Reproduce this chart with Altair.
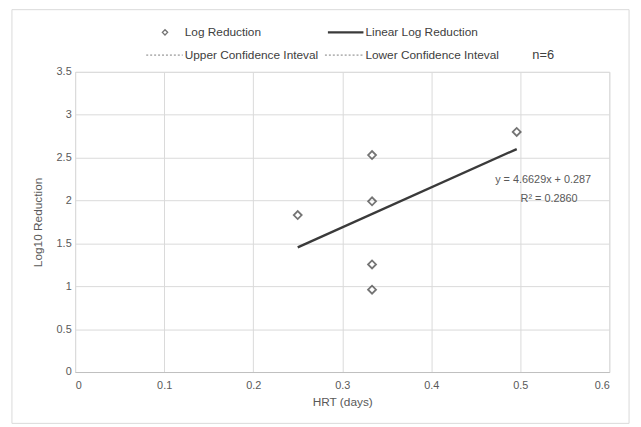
import altair as alt
import pandas as pd

# ---- data ----
hrt = [0.25, 0.3335, 0.3335, 0.3335, 0.3335, 0.496]
log_red = [1.83, 2.53, 1.99, 1.255, 0.96, 2.80]
trend_x = [0.25, 0.496]
trend_y = [1.453, 2.600]
x_ticks = [0, 0.1, 0.2, 0.3, 0.4, 0.5, 0.6]
y_ticks = [0, 0.5, 1, 1.5, 2, 2.5, 3, 3.5]
equation = ["y = 4.6629x  + 0.287", "R² = 0.2860"]
legend_labels = ["Log Reduction", "Linear Log Reduction",
                 "Upper Confidence Inteval", "Lower Confidence Inteval", "n=6"]

FONT = "Liberation Sans"
TXT = "#595959"
LEG = "#404040"
GRID = "#d9d9d9"
MARK = "#3a3a3a"

pts = pd.DataFrame({"x": hrt, "y": log_red})
trend = pd.DataFrame({"x": trend_x, "y": trend_y})
one = pd.DataFrame({"a": [0]})

xs = alt.Scale(domain=[0, 0.6], nice=False, zero=False)
ys = alt.Scale(domain=[0, 3.5], nice=False, zero=False)

xaxis = alt.Axis(values=x_ticks, format=".1~f", grid=True, gridColor=GRID,
                 domainColor="#bfbfbf", ticks=False, labelPadding=8,
                 labelFontSize=11, labelColor=TXT, labelFont=FONT,
                 title="HRT (days)", titleFontSize=12, titleFontWeight="normal",
                 titleColor=TXT, titleFont=FONT, titlePadding=6)
yaxis = alt.Axis(values=y_ticks, format=".1~f", grid=True, gridColor=GRID,
                 domain=False, ticks=False, labelPadding=4,
                 labelFontSize=11, labelColor=TXT, labelFont=FONT,
                 title="Log10 Reduction", titleFontSize=12, titleFontWeight="normal",
                 titleColor=TXT, titleFont=FONT, titlePadding=12)

border = alt.Chart(one).mark_rect(fill="transparent", stroke=GRID, strokeWidth=1, clip=False).encode(
    x=alt.value(-64), x2=alt.value(561), y=alt.value(-63), y2=alt.value(356))

points = alt.Chart(pts).mark_point(shape="diamond", filled=False, size=65,
                                   stroke=MARK, strokeWidth=1.8).encode(
    x=alt.X("x:Q", scale=xs, axis=xaxis),
    y=alt.Y("y:Q", scale=ys, axis=yaxis))

line = alt.Chart(trend).mark_line(color=MARK, strokeWidth=2.4).encode(
    x=alt.X("x:Q", scale=xs), y=alt.Y("y:Q", scale=ys))

layers = [border, points, line]

# equation text
layers.append(alt.Chart(one).mark_text(text=equation[0], font=FONT, fontSize=11, color=TXT,
                                       align="center", baseline="middle").encode(
    x=alt.value(474), y=alt.value(110)))
layers.append(alt.Chart(one).mark_text(text=equation[1], font=FONT, fontSize=11, color=TXT,
                                       align="center", baseline="middle").encode(
    x=alt.value(480), y=alt.value(129)))

# manual legend
layers.append(alt.Chart(one).mark_point(shape="diamond", filled=False, size=28,
                                        stroke=MARK, strokeWidth=1.4, clip=False).encode(
    x=alt.value(91), y=alt.value(-40)))
layers.append(alt.Chart(one).mark_rule(color=MARK, strokeWidth=2.4).encode(
    x=alt.value(256), x2=alt.value(292), y=alt.value(-40)))
layers.append(alt.Chart(one).mark_rule(color="#7f7f7f", strokeWidth=1, strokeDash=[2, 2]).encode(
    x=alt.value(72), x2=alt.value(109), y=alt.value(-17)))
layers.append(alt.Chart(one).mark_rule(color="#7f7f7f", strokeWidth=1, strokeDash=[2, 2]).encode(
    x=alt.value(253), x2=alt.value(292), y=alt.value(-17)))

legend_pos = [(111, -40), (294, -40), (111, -17), (294, -17), (463, -17)]
for lab, (lx, ly) in zip(legend_labels, legend_pos):
    layers.append(alt.Chart(one).mark_text(text=lab, font=FONT, fontSize=12 if lab != "n=6" else 13,
                                           color=LEG, align="left", baseline="middle").encode(
        x=alt.value(lx), y=alt.value(ly)))

chart = alt.layer(*layers).properties(
    width=541, height=304,
    autosize=alt.AutoSizeParams(type="none"),
    padding={"left": 68, "top": 62, "right": 24, "bottom": 53},
).configure_view(stroke=None).configure(background="white")

chart.save("out.html", embed_options={"renderer": "svg", "actions": False})
